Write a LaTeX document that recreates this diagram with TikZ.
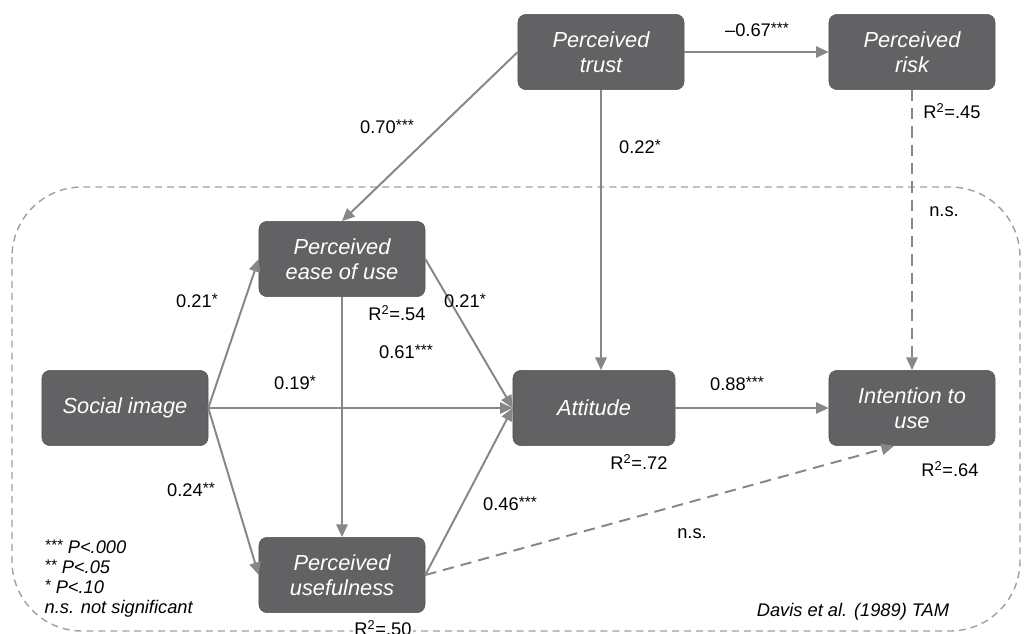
\documentclass[tikz,border=0pt]{standalone}
\usepackage{fontspec}
\setmainfont{Liberation Sans}
\usepackage{xcolor}
\usetikzlibrary{arrows.meta}
\definecolor{boxgray}{RGB}{98,98,100}
\definecolor{linegray}{RGB}{135,135,135}
\definecolor{framegray}{RGB}{160,160,160}
\newcommand{\stars}[1]{\raisebox{2pt}{\fontsize{11}{11}\selectfont #1}}
\tikzset{
	construct/.style = {rectangle, rounded corners = 0.2cm, fill = boxgray, draw = boxgray!85!black,
		minimum width = 4.15cm, minimum height = 1.88cm, align = center, text = white,
		font = \fontsize{15.5}{18}\selectfont\itshape},
	link/.style = {-{Triangle[length = 9pt, width = 8pt]}, linegray, line width = 1.4pt},
	nslink/.style = {link, dash pattern = on 8pt off 5pt},
	coef/.style = {font = \fontsize{13}{15}\selectfont, inner sep = 1pt},
}

\begin{document}
\begin{tikzpicture}[x = 0.025cm, y = -0.025cm]
		\useasboundingbox (0, 0) rectangle (1024, 633);
		% 虚线框 TAM
		\draw [framegray, line width = 1pt, dash pattern = on 5pt off 3.5pt, rounded corners = 1.75cm]
		(12, 187) rectangle (1020, 631);
		% 节点
		\node [construct] (trust) at (601, 52) {Perceived\\trust};
		\node [construct] (risk) at (912, 52) {Perceived\\risk};
		\node [construct] (ease) at (342, 259) {Perceived\\ease of use};
		\node [construct] (social) at (125, 408) {Social image};
		\node [construct, minimum width = 4.05cm] (att) at (594, 408) {Attitude};
		\node [construct] (int) at (912, 408) {Intention to\\use};
		\node [construct] (useful) at (342, 575) {Perceived\\usefulness};
		% 箭头
		\draw [link] (trust.west) -- (ease.north);
		\draw [link] (trust.east) -- (risk.west);
		\draw [link] (trust.south) -- (trust.south |- att.north);
		\draw [nslink] (risk.south) -- (risk.south |- int.north);
		\draw [link] (social.east) -- (ease.west);
		\draw [link] (social.east) -- (att.west);
		\draw [link] (social.east) -- (useful.west);
		\draw [link] (ease.south) -- (useful.north);
		\draw [link] (ease.east) -- (att.west);
		\draw [link] (useful.east) -- (att.west);
		\draw [nslink] (useful.east) -- ([xshift = -0.45cm]int.south);
		\draw [link] (att.east) -- (int.west);
		% 系数
		\node [coef] (c-te) at (387, 127) {0.70\stars{***}};
		\node [coef] (c-tr) at (757, 30) {\textendash0.67\stars{***}};
		\node [coef] (c-ta) at (640, 147) {0.22\stars{*}};
		\node [coef] (r-risk) at (952, 111) {R\textsuperscript{2}=.45};
		\node [coef] (n-ri) at (944, 212) {n.s.};
		\node [coef] (c-se) at (197, 301) {0.21\stars{*}};
		\node [coef] (r-ease) at (397, 313) {R\textsuperscript{2}=.54};
		\node [coef] (c-ea) at (465, 301) {0.21\stars{*}};
		\node [coef] (c-eu) at (406, 352) {0.61\stars{***}};
		\node [coef] (c-sa) at (295, 383) {0.19\stars{*}};
		\node [coef] (c-ai) at (737, 384) {0.88\stars{***}};
		\node [coef] (r-att) at (639, 462) {R\textsuperscript{2}=.72};
		\node [coef] (r-int) at (950, 469) {R\textsuperscript{2}=.64};
		\node [coef] (c-su) at (191, 490) {0.24\stars{**}};
		\node [coef] (c-ua) at (510, 504) {0.46\stars{***}};
		\node [coef] (n-ui) at (692, 534) {n.s.};
		\node [coef, fill = white] (r-useful) at (383, 628) {R\textsuperscript{2}=.50};
		% 批注
		\node [coef, anchor = north west, align = left, font = \fontsize{13}{14.2}\selectfont\itshape]
		(legend) at (43, 538) {\stars{***} P<.000\\\stars{**} P<.05\\\stars{*} P<.10\\n.s. not significant};
		\node [coef, font = \fontsize{13}{15}\selectfont\itshape] (tam) at (853, 612) {Davis et al. (1989) TAM};
	\end{tikzpicture}
\end{document}
